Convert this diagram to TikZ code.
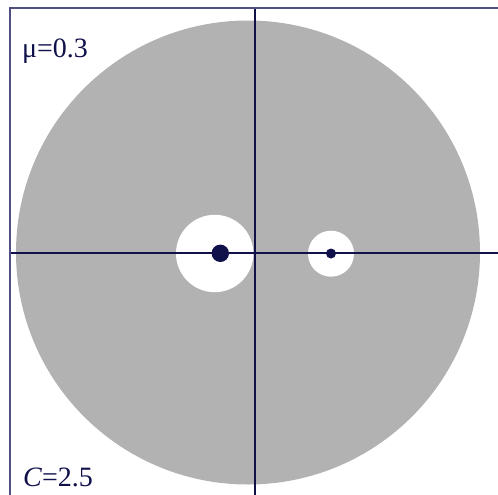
\documentclass[tikz,border=0pt]{standalone}
\usepackage{fontspec}
\setmainfont{Liberation Serif}
\definecolor{diskgray}{RGB}{178,178,178}
\definecolor{navy}{RGB}{16,16,74}
\definecolor{framec}{RGB}{80,80,128}
\begin{document}
\begin{tikzpicture}[x=1pt,y=-1pt,
  axisline/.style={draw=navy,line width=2.2pt},
  frameline/.style={draw=framec,line width=2.4pt},
  lbl/.style={text=navy,font=\fontsize{28}{32}\selectfont,inner sep=0pt,anchor=base west}]
\useasboundingbox (0,0) rectangle (498,495);
\fill[diskgray] (248,252.5) circle (232);
\fill[white] (214.7,253.5) circle (38.7);
\fill[white] (331,253.7) circle (23);
\coordinate (xl) at (10,252.7);
\coordinate (xr) at (498,252.7);
\coordinate (yt) at (255,8);
\coordinate (yb) at (255,495);
\draw[axisline] (xl) -- (xr);
\draw[axisline] (yt) -- (yb);
\coordinate (fb) at (10,495);
\coordinate (fc) at (10,8);
\coordinate (fr) at (498,8);
\draw[frameline] (fb) -- (fc) -- (fr);
\fill[navy] (220.3,253.3) circle (8.7);
\fill[navy] (331,253.5) circle (5);
\node[lbl] (mu) at (22,58) {μ=0.3};
\node[lbl] (cc) at (23,486) {\textit{C}=2.5};
\end{tikzpicture}
\end{document}
